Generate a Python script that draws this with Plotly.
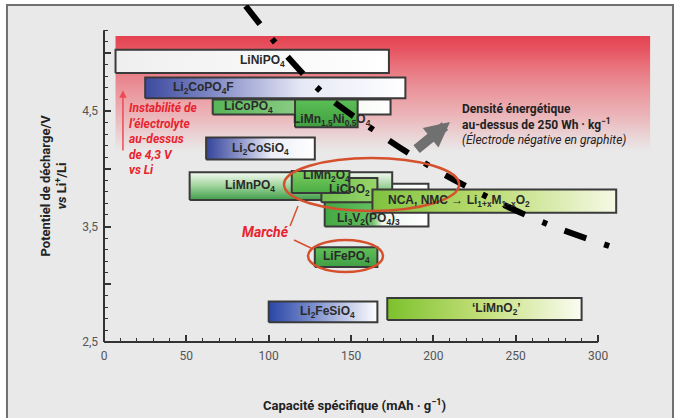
import plotly.graph_objects as go

# ---------------------------------------------------------------- data
# Cathode materials: capacity range (mAh/g) and discharge-potential range (V vs Li+/Li)
materials = ["LiNiPO4", "Li2CoPO4F", "LiCoPO4", "LiMn1.5Ni0.5O4", "Li2CoSiO4",
             "Li3V2(PO4)3", "LiMnPO4", "LiCoO2", "LiMn2O4", "NCA/NMC",
             "LiFePO4", "Li2FeSiO4", "LiMnO2"]
labels = ["LiNiPO<sub>4</sub>", "Li<sub>2</sub>CoPO<sub>4</sub>F", "LiCoPO<sub>4</sub>",
          "LiMn<sub>1,5</sub>Ni<sub>0,5</sub>O<sub>4</sub>", "Li<sub>2</sub>CoSiO<sub>4</sub>",
          "Li<sub>3</sub>V<sub>2</sub>(PO<sub>4</sub>)<sub>3</sub>", "LiMnPO<sub>4</sub>",
          "LiCoO<sub>2</sub>", "LiMn<sub>2</sub>O<sub>4</sub>",
          "NCA, NMC → Li<sub>1+x</sub>M<sub>1−x</sub>O<sub>2</sub>",
          "LiFePO<sub>4</sub>", "Li<sub>2</sub>FeSiO<sub>4</sub>", "‘LiMnO<sub>2</sub>’"]
cap_min = [7, 25, 66, 116, 62, 134, 52, 132, 114, 163, 128, 100, 172]
cap_max = [173, 183, 174, 154, 128, 197, 175, 166, 149, 311, 166, 166, 290]
volt_min = [4.83, 4.61, 4.47, 4.36, 4.08, 3.50, 3.73, 3.71, 3.79, 3.62, 3.15, 2.67, 2.69]
volt_max = [5.03, 4.79, 4.60, 4.60, 4.27, 3.87, 3.97, 3.92, 3.98, 3.82, 3.32, 2.85, 2.88]

# 250 Wh/kg iso-energy curve (graphite negative electrode)
iso_cap = [86, 103.8, 131.2, 163.4, 197.4, 232.6, 269.0, 308.0]
iso_volt = [5.41, 5.096, 4.678, 4.339, 4.026, 3.757, 3.522, 3.325]

# electrolyte instability zone
band_cap = (7, 331.6)
band_volt = (4.15, 5.15)

x_ticks = [0, 50, 100, 150, 200, 250, 300]
y_ticks = [2.5, 3.0, 3.5, 4.0, 4.5, 5.0]
y_ticktext = ["2,5", "", "3,5", "", "4,5", ""]

# ---------------------------------------------------------------- styling
X_MAX = 337.6
Y_MIN, Y_MAX = 2.5, 5.418
FONT = "Roboto"
BORDER = "#3a3a3a"

style = {
    "LiNiPO4":        ("horizontal", [[0, "#efefef"], [1, "#ffffff"]], 10, 0),
    "Li2CoPO4F":      ("horizontal", [[0, "#3d4a9e"], [0.25, "#7e87c4"], [0.6, "#e6e8f5"], [1, "#ffffff"]], -72, 0),
    "LiCoPO4":        ("horizontal", [[0, "#58b558"], [0.5, "#8ccd86"], [0.75, "#f2f8f0"], [1, "#ffffff"]], -53, 0),
    "LiMn1.5Ni0.5O4": ("vertical",   [[0, "#3f9f3f"], [1, "#5cbf56"]], 6, -7),
    "Li2CoSiO4":      ("horizontal", [[0, "#34449a"], [0.3, "#8a92c9"], [0.6, "#eceef8"], [1, "#ffffff"]], 0, 0),
    "Li3V2(PO4)3":    ("horizontal", [[0, "#43a843"], [0.45, "#62be5e"], [0.56, "#eef6ee"], [1, "#ffffff"]], -8, -14),
    "LiMnPO4":        ("vertical",   [[0, "#3f9d4a"], [0.5, "#9fd39a"], [1, "#f6faf4"]], -41, 0),
    "LiCoO2":         ("horizontal", [[0, "#6fc04f"], [1, "#9ad56a"]], 0, 0),
    "LiMn2O4":        ("vertical",   [[0, "#4aad45"], [1, "#7ccb5e"]], 6, 6),
    "NCA/NMC":        ("horizontal", [[0, "#7fc240"], [0.45, "#b9db6e"], [1, "#f6f9e6"]], -35, 0),
    "LiFePO4":        ("vertical",   [[0, "#3f9f45"], [1, "#62bf58"]], 0, 0),
    "Li2FeSiO4":      ("horizontal", [[0, "#2a46a6"], [0.4, "#7a8ccc"], [1, "#ffffff"]], 4, 0),
    "LiMnO2":         ("horizontal", [[0, "#7cc12c"], [0.5, "#c5e07c"], [1, "#fbfcf2"]], 12, 0),
}
# drawing order (later = on top)
draw_order = ["LiNiPO4", "Li2CoPO4F", "LiCoPO4", "LiMn1.5Ni0.5O4", "Li2CoSiO4",
              "Li3V2(PO4)3", "LiMnPO4", "LiCoO2", "LiMn2O4", "NCA/NMC",
              "LiFePO4", "Li2FeSiO4", "LiMnO2"]

fig = go.Figure()

# electrolyte instability band (red fading downwards)
fig.add_trace(go.Scatter(
    x=[band_cap[0], band_cap[1], band_cap[1], band_cap[0], band_cap[0]],
    y=[band_volt[0], band_volt[0], band_volt[1], band_volt[1], band_volt[0]],
    mode="lines", line=dict(width=0), fill="toself",
    fillgradient=dict(type="vertical", start=band_volt[0], stop=band_volt[1],
                      colorscale=[[0, "rgba(238,110,120,0)"], [0.3, "rgba(238,100,110,0.38)"],
                                  [0.65, "rgba(234,86,98,0.7)"], [0.88, "rgba(230,72,86,0.92)"],
                                  [1, "rgba(228,66,80,1)"]]),
    hoverinfo="skip"))

idx = {m: i for i, m in enumerate(materials)}
annotations = []
for m in draw_order:
    i = idx[m]
    x0, x1, y0, y1 = cap_min[i], cap_max[i], volt_min[i], volt_max[i]
    gtype, cscale, dx, dy = style[m]
    if gtype == "horizontal":
        start, stop = x0, x1
    else:
        start, stop = y0, y1
    fig.add_trace(go.Scatter(
        x=[x0, x1, x1, x0, x0], y=[y0, y0, y1, y1, y0],
        mode="lines", line=dict(color=BORDER, width=2), fill="toself",
        fillgradient=dict(type=gtype, start=start, stop=stop, colorscale=cscale),
        hoverinfo="skip"))
    annotations.append(dict(
        x=(x0 + x1) / 2, y=(y0 + y1) / 2, xref="x", yref="y", text=f"<b>{labels[i]}</b>",
        showarrow=False, xshift=dx, yshift=dy, xanchor="center", yanchor="middle",
        font=dict(family="Liberation Sans", size=12, color="#2a2a2a")))

# iso-energy curve, dash-dot
fig.add_trace(go.Scatter(
    x=iso_cap, y=iso_volt, mode="lines",
    line=dict(color="black", width=6, shape="spline", dash="23px,19px,5px,19px"),
    hoverinfo="skip"))

# ---------------------------------------------------------------- annotations
red = "#e8232e"
annotations += [
    dict(x=14, y=4.258, xref="x", yref="y", xanchor="left", yanchor="middle", align="left",
         showarrow=False,
         text="<b><i>Instabilité de<br>l’électrolyte<br>au-dessus<br>de 4,3 V<br>vs Li</i></b>",
         font=dict(family=FONT, size=12, color=red)),
    dict(x=11.5, y=4.68, ax=11.5, ay=4.145, xref="x", yref="y", axref="x", ayref="y",
         text="", showarrow=True, arrowhead=2, arrowsize=1, arrowwidth=1.5, arrowcolor="#ee4a55"),
    dict(x=216.2, y=4.387, xref="x", yref="y", xanchor="left", yanchor="middle", align="left",
         showarrow=False,
         text="<b>Densité énergétique<br>au-dessus de 250 Wh · kg<sup>−1</sup></b><br>"
              "<i>(Électrode négative en graphite)</i>",
         font=dict(family=FONT, size=12, color="#222222")),
    dict(x=210.1, y=4.405, ax=188.9, ay=4.16, xref="x", yref="y", axref="x", ayref="y",
         text="", showarrow=True, arrowhead=2, arrowsize=0.5, arrowwidth=10, arrowcolor="#707070"),
    dict(x=97.8, y=3.452, xref="x", yref="y", showarrow=False, xanchor="center", yanchor="middle",
         text="<b><i>Marché</i></b>", font=dict(family=FONT, size=14, color=red)),
    dict(x=-0.0908, y=0.463, xref="paper", yref="paper", showarrow=False, textangle=-90,
         xanchor="center", yanchor="middle",
         text="<b>Potentiel de décharge/V<br><i>vs</i> Li<sup>+</sup>/Li</b>",
         font=dict(family=FONT, size=13, color="#222222")),
    dict(x=0.4514, y=-0.187, xref="paper", yref="paper", showarrow=False,
         xanchor="center", yanchor="middle",
         text="<b>Capacité spécifique (mAh · g<sup>−1</sup>)</b>",
         font=dict(family=FONT, size=13, color="#222222")),
]

orange = "#d5512d"
shapes = [
    # chart frame and background
    dict(type="rect", xref="paper", yref="paper", x0=-0.1745, x1=1.0234, y0=-0.3, y1=1.0,
         fillcolor="#e9e9e9", line=dict(color="#707070", width=2), layer="below"),
    # axis lines
    dict(type="line", xref="paper", yref="paper", x0=0, x1=300 / X_MAX, y0=0, y1=0,
         line=dict(color="#333333", width=2)),
    dict(type="line", xref="paper", yref="paper", x0=0, x1=0, y0=0,
         y1=(5.2 - Y_MIN) / (Y_MAX - Y_MIN), line=dict(color="#333333", width=2)),
    # market highlight
    dict(type="circle", xref="x", yref="y", x0=109.3, x1=215.6, y0=3.634, y1=4.093,
         line=dict(color=orange, width=2.5)),
    dict(type="circle", xref="x", yref="y", x0=123.9, x1=169.4, y0=3.106, y1=3.383,
         line=dict(color=orange, width=2.5)),
    dict(type="line", xref="x", yref="y", x0=113, y0=3.504, x1=117.8, y1=3.677,
         line=dict(color=orange, width=1.5)),
    dict(type="line", xref="x", yref="y", x0=115.4, y0=3.383, x1=126.9, y1=3.305,
         line=dict(color=orange, width=1.5)),
]

x_minor = [v for v in range(10, 300, 10) if v % 50]
y_minor = [round(2.5 + 0.1 * k, 1) for k in range(1, 28) if k % 5]

fig.update_layout(
    width=678, height=418, margin=dict(l=104, r=18, t=5, b=76),
    paper_bgcolor="white", plot_bgcolor="rgba(0,0,0,0)", showlegend=False,
    annotations=annotations, shapes=shapes,
    xaxis=dict(range=[0, X_MAX], tickvals=x_ticks, ticks="inside", ticklen=7, tickwidth=1.5,
               tickcolor="#333333", showgrid=False, zeroline=False, showline=False,
               ticklabelstandoff=5,
               tickfont=dict(family=FONT, size=12, color="#555555"),
               minor=dict(tickmode="array", tickvals=x_minor, ticks="inside", ticklen=4,
                          tickwidth=1.2, tickcolor="#333333", showgrid=False)),
    yaxis=dict(range=[Y_MIN, Y_MAX], tickvals=y_ticks, ticktext=y_ticktext, ticks="inside",
               ticklen=7, tickwidth=1.5, tickcolor="#333333", showgrid=False, zeroline=False,
               showline=False, ticklabelstandoff=5,
               tickfont=dict(family=FONT, size=12, color="#555555"),
               minor=dict(tickmode="array", tickvals=y_minor, ticks="inside", ticklen=4,
                          tickwidth=1.2, tickcolor="#333333", showgrid=False)),
)

fig.write_html("out.html")
